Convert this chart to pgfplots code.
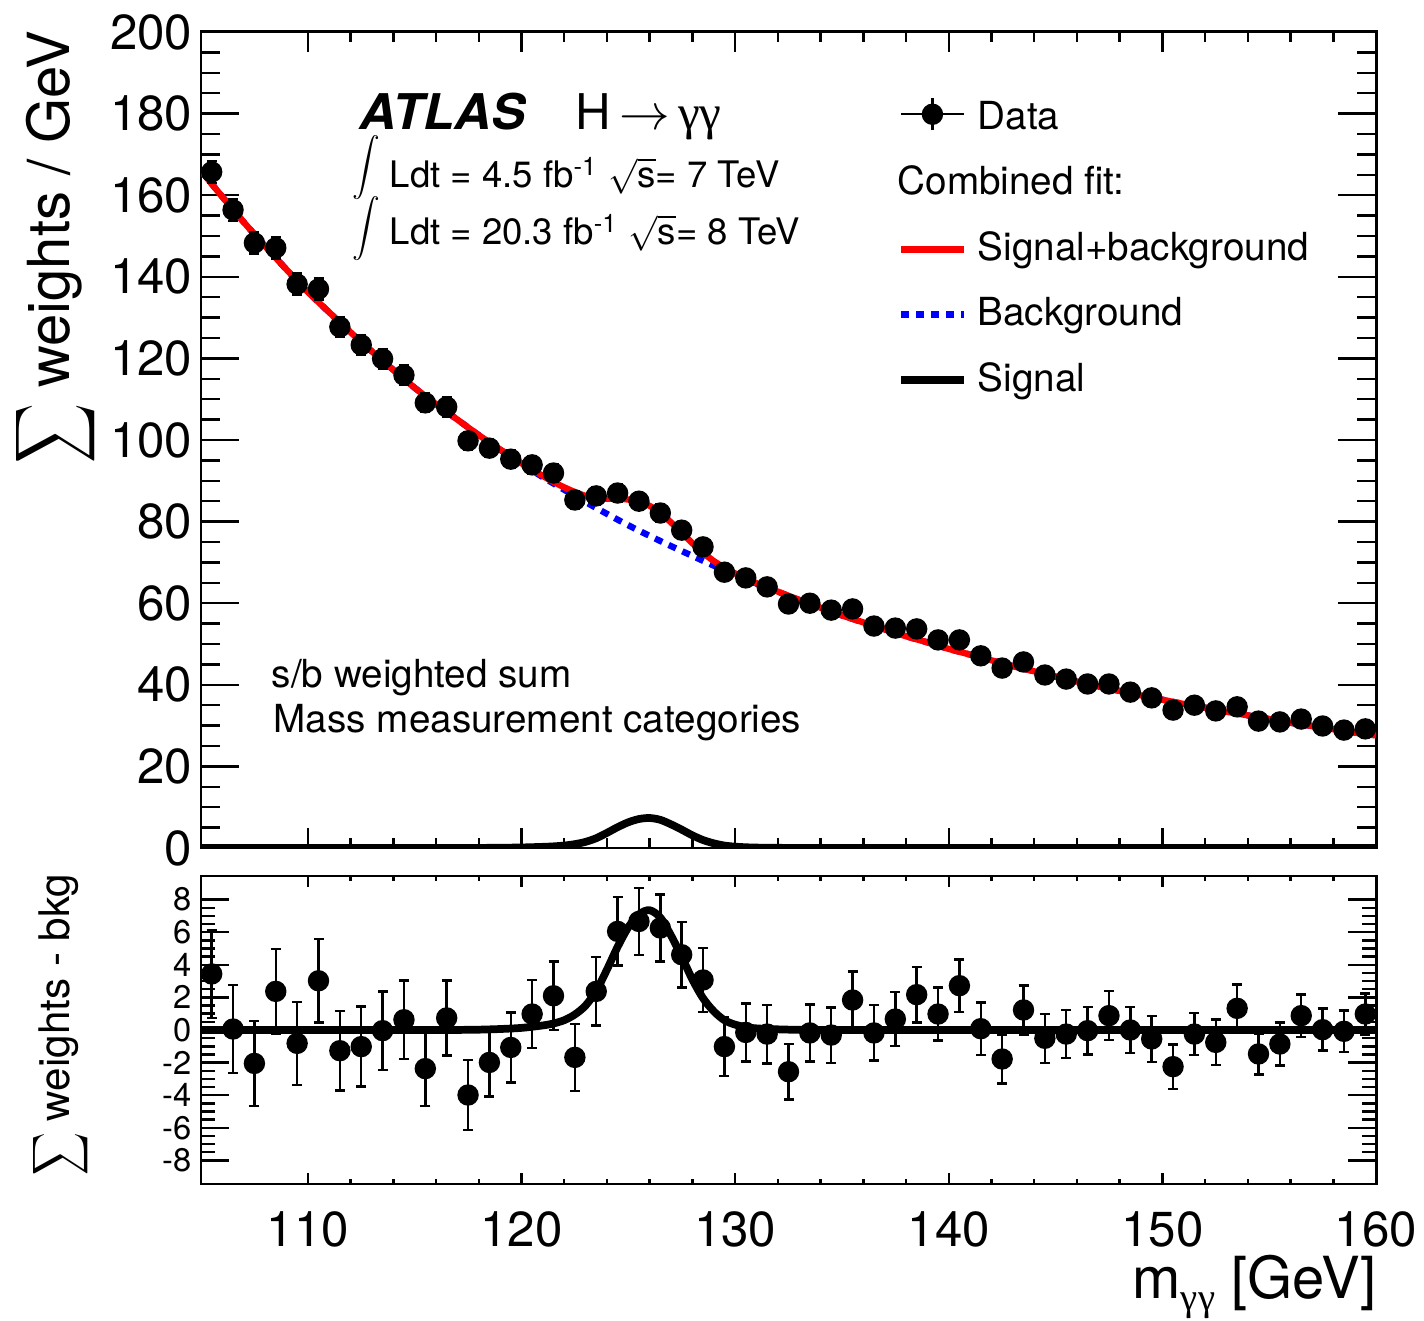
\documentclass[border=0pt]{standalone}
\usepackage{fontspec}
\setmainfont{TeX Gyre Heros}
\newfontfamily\greek{Liberation Serif}
\usepackage{exscale}
\usepackage{pgfplots}
\pgfplotsset{compat=1.18}
\usepackage{pgfplotstable}

\pgfplotstableread{
x y e
105.5 165.7 2.7
106.5 156.4 2.7
107.5 148.3 2.6
108.5 147.1 2.6
109.5 138.2 2.55
110.5 137.0 2.55
111.5 127.7 2.45
112.5 123.3 2.45
113.5 119.9 2.4
114.5 115.9 2.4
115.5 109.1 2.3
116.5 108.1 2.3
117.5 99.8 2.15
118.5 98.0 2.1
119.5 95.3 2.15
120.5 93.9 2.1
121.5 91.9 2.1
122.5 85.3 2.05
123.5 86.3 2.1
124.5 87.0 2.1
125.5 85.0 2.05
126.5 82.1 2.05
127.5 77.9 2.0
128.5 73.8 1.95
129.5 67.6 1.8
130.5 66.2 1.78
131.5 64.0 1.8
132.5 59.8 1.7
133.5 60.0 1.75
134.5 58.3 1.7
135.5 58.6 1.75
136.5 54.4 1.7
137.5 53.9 1.65
138.5 53.7 1.7
139.5 51.0 1.63
140.5 51.0 1.62
141.5 47.1 1.6
142.5 44.1 1.5
143.5 45.6 1.5
144.5 42.4 1.5
145.5 41.4 1.47
146.5 40.2 1.45
147.5 40.2 1.5
148.5 38.2 1.42
149.5 36.8 1.42
150.5 33.8 1.36
151.5 35.0 1.3
152.5 33.6 1.4
153.5 34.6 1.45
154.5 31.1 1.25
155.5 30.9 1.33
156.5 31.6 1.3
157.5 29.9 1.29
158.5 28.9 1.27
159.5 29.2 1.27
}\datatop

\pgfplotstableread{
x r e
105.5 3.44 2.7
106.5 0.06 2.7
107.5 -2.05 2.6
108.5 2.37 2.6
109.5 -0.82 2.55
110.5 3.02 2.55
111.5 -1.27 2.45
112.5 -1.02 2.45
113.5 -0.04 2.4
114.5 0.63 2.4
115.5 -2.37 2.3
116.5 0.74 2.3
117.5 -3.99 2.15
118.5 -1.99 2.1
119.5 -1.07 2.15
120.5 0.98 2.1
121.5 2.10 2.1
122.5 -1.68 2.05
123.5 2.37 2.1
124.5 6.05 2.1
125.5 6.66 2.05
126.5 6.26 2.05
127.5 4.62 2.0
128.5 3.07 1.95
129.5 -1.02 1.8
130.5 -0.15 1.78
131.5 -0.25 1.8
132.5 -2.56 1.7
133.5 -0.18 1.75
134.5 -0.31 1.7
135.5 1.84 1.75
136.5 -0.18 1.7
137.5 0.67 1.65
138.5 2.17 1.7
139.5 0.98 1.63
140.5 2.72 1.62
141.5 0.08 1.6
142.5 -1.78 1.5
143.5 1.23 1.5
144.5 -0.51 1.5
145.5 -0.25 1.47
146.5 -0.04 1.45
147.5 0.88 1.5
148.5 0.0 1.42
149.5 -0.55 1.42
150.5 -2.25 1.36
151.5 -0.25 1.3
152.5 -0.76 1.4
153.5 1.33 1.45
154.5 -1.47 1.25
155.5 -0.86 1.33
156.5 0.88 1.3
157.5 0.02 1.29
158.5 -0.08 1.27
159.5 0.98 1.27
}\databot

\pgfplotstableread{
x b
105 166.0
106 159.6
107 153.4
108 147.5
109 141.8
110 136.3
111 131.3
112 126.4
113 121.7
114 117.2
115 112.8
116 108.8
117 105.0
118 101.2
119 97.6
120 94.2
121 90.9
122 87.8
123 84.8
124 81.9
125 79.1
126 76.5
127 74.0
128 71.6
129 69.2
130 66.95
131 64.8
132 62.8
133 60.8
134 58.9
135 57.0
136 55.3
137 53.6
138 51.9
139 50.4
140 48.8
141 47.4
142 46.0
143 44.6
144 43.3
145 42.0
146 40.8
147 39.6
148 38.5
149 37.4
150 36.35
151 35.3
152 34.4
153 33.4
154 32.5
155 31.6
156 30.7
157 29.9
158 29.1
159 28.3
160 27.6
}\bkgtab

\pgfplotstableread{
x sb
105 166.0
106 159.6
107 153.4
108 147.5
109 141.8
110 136.3
111 131.3
112 126.4
113 121.7
114 117.2
115 112.8
116 108.8
117 105.0
118 101.2
119 97.7
120 94.3
121 91.2
121.5 89.7
122 88.4
122.5 87.25
123 86.3
123.5 85.7
124 85.6
124.5 85.6
125 85.4
125.5 84.9
126 83.85
126.5 82.1
127 79.8
127.5 77.3
128 74.7
128.5 72.35
129 70.35
129.5 68.7
130 67.3
130.5 66.1
131 64.9
132 62.84
133 60.8
134 58.9
135 57.0
136 55.3
137 53.6
138 51.9
139 50.4
140 48.8
141 47.4
142 46.0
143 44.6
144 43.3
145 42.0
146 40.8
147 39.6
148 38.5
149 37.4
150 36.35
151 35.3
152 34.4
153 33.4
154 32.5
155 31.6
156 30.7
157 29.9
158 29.1
159 28.3
160 27.6
}\sbtab

\pgfplotstableread{
x s
105 0
108 0
111 0
114 0
116 0
117 0.005
118 0.02
119 0.06
120 0.13
121 0.28
121.5 0.4
122 0.6
122.5 0.95
123 1.5
123.5 2.4
124 3.7
124.5 5.1
125 6.3
125.5 7.1
126 7.35
126.5 6.9
127 5.8
127.5 4.5
128 3.1
128.5 1.95
129 1.15
129.5 0.6
130 0.33
130.5 0.18
131 0.1
132 0.04
133 0.01
134 0
136 0
140 0
145 0
150 0
155 0
160 0
}\sigtab

\begin{document}
\begin{tikzpicture}
\useasboundingbox (-2.01cm,-4.72cm) rectangle (12.23cm,8.48cm);
\pgfplotsset{
  every axis/.append style={
    scale only axis, width=11.75cm, xmin=105, xmax=160,
    axis line style={line width=0.85pt},
    tick align=inside,
    tick style={line width=0.7pt, black},
    every tick label/.append style={font=\fontsize{14}{16}\selectfont},
    clip=true,
  },
}
\begin{axis}[
  name=top, at={(0cm,0cm)}, anchor=south west,
  height=8.16cm, ymin=0, ymax=200,
  xtick={110,120,130,140,150,160}, xticklabels={},
  minor x tick num=4,
  ytick={0,20,40,60,80,100,120,140,160,180,200},
  yticklabels={0,20,40,60,80,100,120,140,160,180,200},
  minor y tick num=3,
  major tick length=0.38cm, minor tick length=0.19cm,
  x tick style={/pgfplots/major tick length=0.2cm, /pgfplots/minor tick length=0.1cm},
  yticklabel style={inner sep=0pt, xshift=-0.08cm},
  legend cell align=left,
  legend style={draw=none, fill=none, inner sep=0pt, outer sep=0pt, row sep=0pt,
    /tikz/column sep=0pt,
    font=\fontsize{11}{13}\selectfont,
    nodes={inner sep=0pt, text height=0.438cm, text depth=0.217cm},
    at={(0.5921,0.9344)}, anchor=north west},
]
\addlegendimage{legend image code/.code={
  \draw[line width=0.6pt] (0cm,0.04cm) -- (0.63cm,0.04cm);
  \draw[line width=0.6pt] (0.315cm,-0.12cm) -- (0.315cm,0.2cm);
  \draw[black, mark=*, mark size=0.1cm] plot coordinates {(0.315cm,0.04cm)};
  \path (0.76cm,0cm);}}
\addlegendentry{Data}
\addlegendimage{legend image code/.code={\path (0cm,0cm) (0.76cm,0cm);}}
\addlegendentry{\hspace*{-0.8cm}Combined fit:}
\addlegendimage{legend image code/.code={
  \draw[red, line width=1.9pt] (0cm,0cm) -- (0.63cm,0cm); \path (0.76cm,0cm);}}
\addlegendentry{Signal+background}
\addlegendimage{legend image code/.code={
  \draw[blue, line width=1.9pt, dash pattern=on 2.3pt off 2pt] (0cm,0cm) -- (0.63cm,0cm); \path (0.76cm,0cm);}}
\addlegendentry{Background}
\addlegendimage{legend image code/.code={
  \draw[black, line width=2.4pt] (0cm,0cm) -- (0.63cm,0cm); \path (0.76cm,0cm);}}
\addlegendentry{Signal}

\addplot[forget plot, blue, line width=1.8pt, dash pattern=on 2.3pt off 2pt, smooth] table[x=x, y=b] {\bkgtab};
\addplot[forget plot, red, line width=1.8pt, smooth] table[x=x, y=sb] {\sbtab};
\addplot[forget plot, black, line width=2.2pt, smooth] table[x=x, y=s] {\sigtab};
\addplot[forget plot, black, only marks, mark=*, mark size=0.1cm,
  error bars/.cd, y dir=both, y explicit,
  error bar style={line width=0.7pt, black},
  error mark=-, error mark options={rotate=90, black, mark size=0.05cm, line width=0.7pt}]
  table[x=x, y=y, y error=e] {\datatop};
\end{axis}

\begin{axis}[
  name=bot, at={(0cm,-0.28cm)}, anchor=north west,
  height=3.08cm, ymin=-9.45, ymax=9.45,
  xtick={110,120,130,140,150,160}, xticklabels={110,120,130,140,150,160},
  minor x tick num=4,
  ytick={-8,-6,-4,-2,0,2,4,6,8}, yticklabels={-8,-6,-4,-2,0,2,4,6,8},
  minor y tick num=3,
  major tick length=0.28cm, minor tick length=0.14cm,
  x tick style={/pgfplots/major tick length=0.11cm, /pgfplots/minor tick length=0.055cm},
  yticklabel style={inner sep=0pt, xshift=-0.09cm, font=\fontsize{9.3}{11}\selectfont},
  xticklabel style={inner sep=0pt, yshift=-0.27cm},
]
\addplot[black, line width=2.2pt, smooth] table[x=x, y=s] {\sigtab};
\addplot[black, only marks, mark=*, mark size=0.1cm,
  error bars/.cd, y dir=both, y explicit,
  error bar style={line width=0.7pt, black},
  error mark=-, error mark options={rotate=90, black, mark size=0.05cm, line width=0.7pt}]
  table[x=x, y=r, y error=e] {\databot};
\end{axis}

% texts
\node[anchor=base west, inner sep=0pt] at (1.58cm,7.18cm)
  {\scalebox{1.04}[1.0]{\fontsize{14}{16}\selectfont\bfseries\itshape ATLAS}};
\node[anchor=base west, inner sep=0pt] at (3.74cm,7.18cm)
  {\fontsize{14}{16}\selectfont H\,$\rightarrow$\,{\greek γγ}};
\node[inner sep=0pt] at (1.65cm,6.73cm) {\fontsize{11}{11}\selectfont\smash{\scalebox{0.72}[0.75]{$\displaystyle\int$}}};
\node[inner sep=0pt] at (1.65cm,6.12cm) {\fontsize{11}{11}\selectfont\smash{\scalebox{0.72}[0.75]{$\displaystyle\int$}}};
\node[anchor=base west, inner sep=0pt] at (1.88cm,6.60cm)
  {\fontsize{10.4}{13}\selectfont Ldt = 4.5 fb\textsuperscript{-1} $\sqrt{\mbox{s}}$= 7 TeV};
\node[anchor=base west, inner sep=0pt] at (1.88cm,6.03cm)
  {\fontsize{10.4}{13}\selectfont Ldt = 20.3 fb\textsuperscript{-1} $\sqrt{\mbox{s}}$= 8 TeV};
\node[anchor=base west, inner sep=0pt] at (0.70cm,1.60cm)
  {\fontsize{11}{13}\selectfont s/b weighted sum};
\node[anchor=base west, inner sep=0pt] at (0.72cm,1.15cm)
  {\fontsize{11}{13}\selectfont Mass measurement categories};
% axis titles
\node[rotate=90, anchor=base east, inner sep=0pt] at (-1.31cm,8.18cm)
  {\fontsize{16.5}{18}\selectfont\smash{\scalebox{0.68}[0.92]{$\displaystyle\sum$}} weights / GeV};
\node[rotate=90, anchor=base east, inner sep=0pt] at (-1.31cm,-0.25cm)
  {\fontsize{12}{14}\selectfont\smash{\scalebox{0.7}[0.92]{$\displaystyle\sum$}} weights - bkg};
\node[anchor=base east, inner sep=0pt] at (11.76cm,-4.50cm)
  {\fontsize{16.5}{18}\selectfont m\raisebox{-0.22em}{\fontsize{11}{11}\selectfont\greek γγ} [GeV]};
\end{tikzpicture}
\end{document}
